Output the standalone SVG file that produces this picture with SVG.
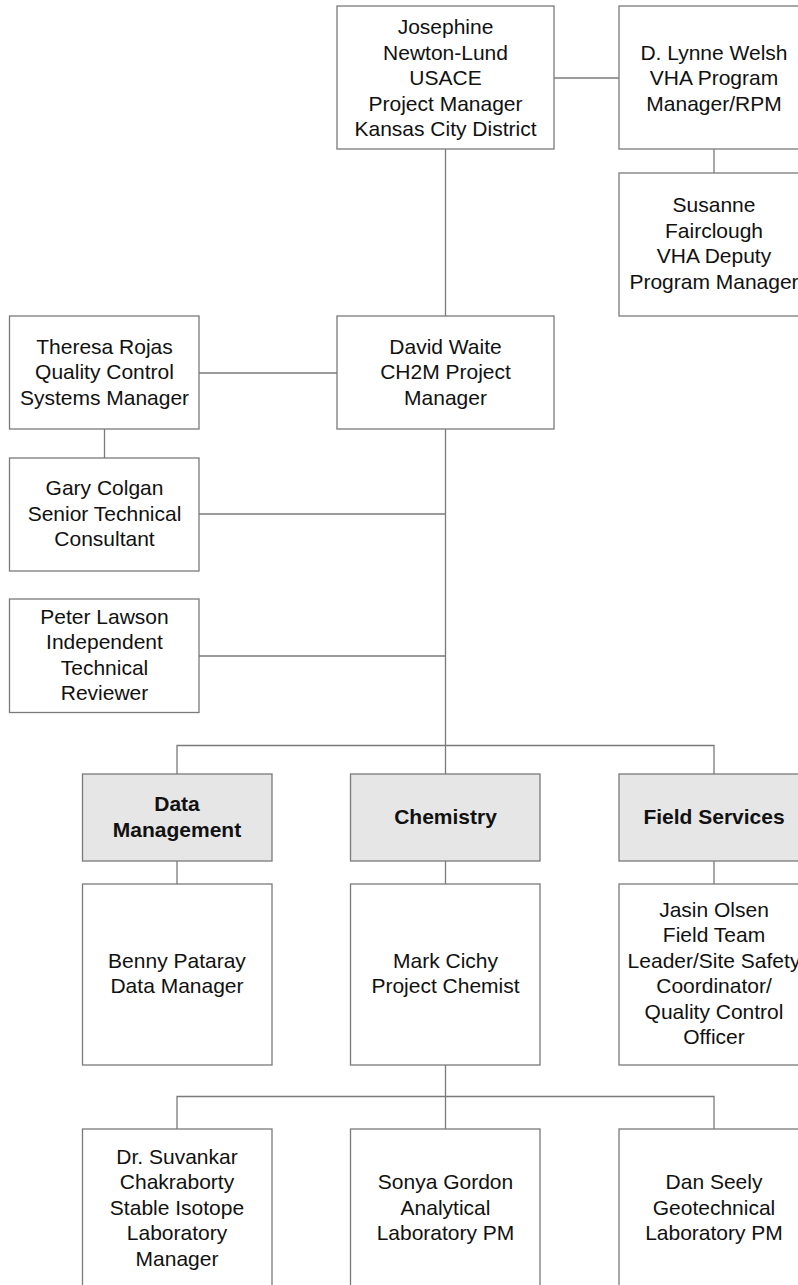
<svg xmlns="http://www.w3.org/2000/svg" width="798" height="1285" viewBox="0 0 798 1285">
  <style>
    .box { fill: #ffffff; stroke: #7a7a7a; stroke-width: 1.3; }
    .head { fill: #e6e6e6; stroke: #7a7a7a; stroke-width: 1.3; }
    .link { fill: none; stroke: #7a7a7a; stroke-width: 1.3; }
    text { font-family: "Liberation Sans", Arial, sans-serif; font-size: 21px; fill: #111111; text-anchor: middle; }
    .bold { font-weight: bold; }
  </style>
  <rect width="798" height="1285" fill="#ffffff"/>

  <!-- reporting lines -->
  <g id="connectors">
    <path class="link" d="M554 78 H619"/>
    <path class="link" d="M714 149 V173"/>
    <path class="link" d="M445.5 149 V316"/>
    <path class="link" d="M199 373 H337"/>
    <path class="link" d="M104.5 429 V458"/>
    <path class="link" d="M199 514 H445.5"/>
    <path class="link" d="M199 656 H445.5"/>
    <path class="link" d="M445.5 429 V774"/>
    <path class="link" d="M177 774 V745.5 H714 V774"/>
    <path class="link" d="M177 861 V884"/>
    <path class="link" d="M445.5 861 V884"/>
    <path class="link" d="M714 861 V884"/>
    <path class="link" d="M445.5 1065 V1129"/>
    <path class="link" d="M177 1129 V1096.5 H714 V1129"/>
  </g>

  <g id="josephine">
    <rect class="box" x="337" y="6" width="217" height="143"/>
    <text x="445.5" y="34">Josephine</text>
    <text x="445.5" y="59.5">Newton-Lund</text>
    <text x="445.5" y="85">USACE</text>
    <text x="445.5" y="110.5">Project Manager</text>
    <text x="445.5" y="136">Kansas City District</text>
  </g>

  <g id="welsh">
    <rect class="box" x="619" y="6" width="190" height="143"/>
    <text x="714" y="59.5">D. Lynne Welsh</text>
    <text x="714" y="85">VHA Program</text>
    <text x="714" y="110.5">Manager/RPM</text>
  </g>

  <g id="fairclough">
    <rect class="box" x="619" y="173" width="190" height="143"/>
    <text x="714" y="212">Susanne</text>
    <text x="714" y="237.5">Fairclough</text>
    <text x="714" y="263">VHA Deputy</text>
    <text x="714" y="288.5">Program Manager</text>
  </g>

  <g id="rojas">
    <rect class="box" x="9.5" y="316" width="189.5" height="113"/>
    <text x="104.5" y="353.5">Theresa Rojas</text>
    <text x="104.5" y="379">Quality Control</text>
    <text x="104.5" y="404.5">Systems Manager</text>
  </g>

  <g id="waite">
    <rect class="box" x="337" y="316" width="217" height="113"/>
    <text x="445.5" y="353.5">David Waite</text>
    <text x="445.5" y="379">CH2M Project</text>
    <text x="445.5" y="404.5">Manager</text>
  </g>

  <g id="colgan">
    <rect class="box" x="9.5" y="458" width="189.5" height="113"/>
    <text x="104.5" y="495">Gary Colgan</text>
    <text x="104.5" y="520.5">Senior Technical</text>
    <text x="104.5" y="546">Consultant</text>
  </g>

  <g id="lawson">
    <rect class="box" x="9.5" y="599" width="189.5" height="113.5"/>
    <text x="104.5" y="623.5">Peter Lawson</text>
    <text x="104.5" y="649">Independent</text>
    <text x="104.5" y="674.5">Technical</text>
    <text x="104.5" y="700">Reviewer</text>
  </g>

  <g id="data-management">
    <rect class="head" x="82.5" y="774" width="189.5" height="87"/>
    <text class="bold" x="177" y="811">Data</text>
    <text class="bold" x="177" y="836.5">Management</text>
  </g>

  <g id="chemistry">
    <rect class="head" x="350.5" y="774" width="189.5" height="87"/>
    <text class="bold" x="445.5" y="824">Chemistry</text>
  </g>

  <g id="field-services">
    <rect class="head" x="619" y="774" width="190" height="87"/>
    <text class="bold" x="714" y="824">Field Services</text>
  </g>

  <g id="pataray">
    <rect class="box" x="82.5" y="884" width="189.5" height="181"/>
    <text x="177" y="967.5">Benny Pataray</text>
    <text x="177" y="993">Data Manager</text>
  </g>

  <g id="cichy">
    <rect class="box" x="350.5" y="884" width="189.5" height="181"/>
    <text x="445.5" y="967.5">Mark Cichy</text>
    <text x="445.5" y="993">Project Chemist</text>
  </g>

  <g id="olsen">
    <rect class="box" x="619" y="884" width="190" height="181"/>
    <text x="714" y="916.5">Jasin Olsen</text>
    <text x="714" y="942">Field Team</text>
    <text x="714" y="967.5">Leader/Site Safety</text>
    <text x="714" y="993">Coordinator/</text>
    <text x="714" y="1018.5">Quality Control</text>
    <text x="714" y="1044">Officer</text>
  </g>

  <g id="chakraborty">
    <rect class="box" x="82.5" y="1129" width="189.5" height="180"/>
    <text x="177" y="1163.5">Dr. Suvankar</text>
    <text x="177" y="1189">Chakraborty</text>
    <text x="177" y="1214.5">Stable Isotope</text>
    <text x="177" y="1240">Laboratory</text>
    <text x="177" y="1265.5">Manager</text>
  </g>

  <g id="gordon">
    <rect class="box" x="350.5" y="1129" width="189.5" height="180"/>
    <text x="445.5" y="1189">Sonya Gordon</text>
    <text x="445.5" y="1214.5">Analytical</text>
    <text x="445.5" y="1240">Laboratory PM</text>
  </g>

  <g id="seely">
    <rect class="box" x="619" y="1129" width="190" height="180"/>
    <text x="714" y="1189">Dan Seely</text>
    <text x="714" y="1214.5">Geotechnical</text>
    <text x="714" y="1240">Laboratory PM</text>
  </g>
</svg>
